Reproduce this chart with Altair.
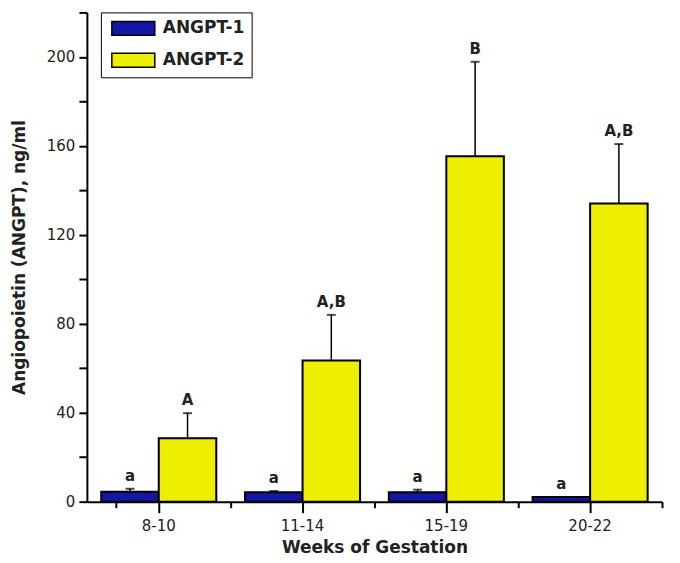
import altair as alt
import pandas as pd

groups = ["8-10", "11-14", "15-19", "20-22"]
series = ["ANGPT-1", "ANGPT-2"]
angpt1 = [4.5, 4.2, 4.2, 2.1]
angpt1_upper = [5.8, 4.8, 5.4, 2.1]
angpt2 = [28.5, 63.5, 155.3, 134.1]
angpt2_upper = [39.8, 84.0, 197.8, 160.8]
letters1 = ["a", "a", "a", "a"]
letters2 = ["A", "A,B", "B", "A,B"]

rows = []
for i, g in enumerate(groups):
    rows.append(dict(group=g, series=series[0], value=angpt1[i], upper=angpt1_upper[i], letter=letters1[i]))
    rows.append(dict(group=g, series=series[1], value=angpt2[i], upper=angpt2_upper[i], letter=letters2[i]))
df = pd.DataFrame(rows)

FONT = "DejaVu Sans"

xscale = alt.Scale(domain=groups, paddingInner=0.2, paddingOuter=0.1)
yscale = alt.Scale(domain=[0, 220], nice=False)

x_main = alt.X("group:N", scale=xscale, sort=groups,
               axis=alt.Axis(title="Weeks of Gestation", labelAngle=0, tickSize=11,
                             tickWidth=2, domainWidth=2, domainColor="black", tickColor="black",
                             labelFont=FONT, labelFontSize=15, labelColor="#222",
                             labelPadding=6, titleFont=FONT, titleFontSize=17,
                             titleFontWeight="bold", titleColor="#222", titlePadding=6,
                             orient="bottom", grid=False))
x_minor = alt.X("group:N", scale=xscale, sort=groups,
                axis=alt.Axis(title=None, labels=False, tickSize=6, tickWidth=2,
                              domain=False, tickColor="black", bandPosition=1,
                              tickOffset=14.4, tickExtra=True, orient="bottom", grid=False))
x_plain = alt.X("group:N", scale=xscale, sort=groups, axis=None)
xoff = alt.XOffset("series:N", sort=series)

y_enc = alt.Y("value:Q", scale=yscale,
              axis=alt.Axis(title="Angiopoietin (ANGPT), ng/ml", values=list(range(0, 221, 20)),
                            labelExpr="datum.value % 40 == 0 ? datum.label : ''",
                            tickSize=8, tickWidth=2, domainWidth=2, domainColor="black",
                            tickColor="black", labelFont=FONT, labelFontSize=15,
                            labelColor="#222", labelPadding=4, titleFont=FONT,
                            titleFontSize=17, titleFontWeight="bold", titleColor="#222",
                            titlePadding=18, grid=False))

color = alt.Color("series:N",
                  scale=alt.Scale(domain=series, range=["#1616a6", "#eeee00"]),
                  legend=alt.Legend(title=None, orient="none", legendX=14, legendY=0,
                                    strokeColor="black", padding=7, fillColor="white",
                                    symbolType="M-2.6875,-0.875H2.6875V0.875H-2.6875Z",
                                    symbolSize=256,
                                    symbolStrokeColor="black", symbolStrokeWidth=1.5,
                                    symbolOffset=16.5, labelOffset=20.5, rowPadding=12,
                                    labelFont=FONT, labelFontSize=17, labelFontWeight="bold",
                                    labelColor="#222"))

base = alt.Chart(df)

minor = base.mark_point(opacity=0).encode(x=x_minor, y=alt.Y("value:Q", scale=yscale))

bars = base.mark_bar(stroke="black", strokeWidth=2).encode(
    x=x_main, xOffset=xoff, y=y_enc, color=color)

err = base.mark_rule(color="black", strokeWidth=1.5).encode(
    x=x_plain, xOffset=xoff, y="value:Q", y2="upper:Q")

cap = base.mark_tick(color="black", thickness=2, size=9).encode(
    x=x_plain, xOffset=xoff, y="upper:Q")

txt = base.mark_text(font=FONT, fontSize=15, fontWeight="bold", color="#222",
                     baseline="bottom", dy=-5).encode(
    x=x_plain, xOffset=xoff, y="upper:Q", text="letter:N")

chart = alt.layer(minor, bars, err, cap, txt).resolve_axis(x="independent").properties(
    width=576, height=490,
    background="white",
    autosize=alt.AutoSizeParams(type="none"),
    padding={"left": 79, "top": 4, "right": 10, "bottom": 55},
).configure_view(stroke="transparent", strokeWidth=0)

chart.save("out.html", embed_options={"renderer": "svg", "actions": False})
